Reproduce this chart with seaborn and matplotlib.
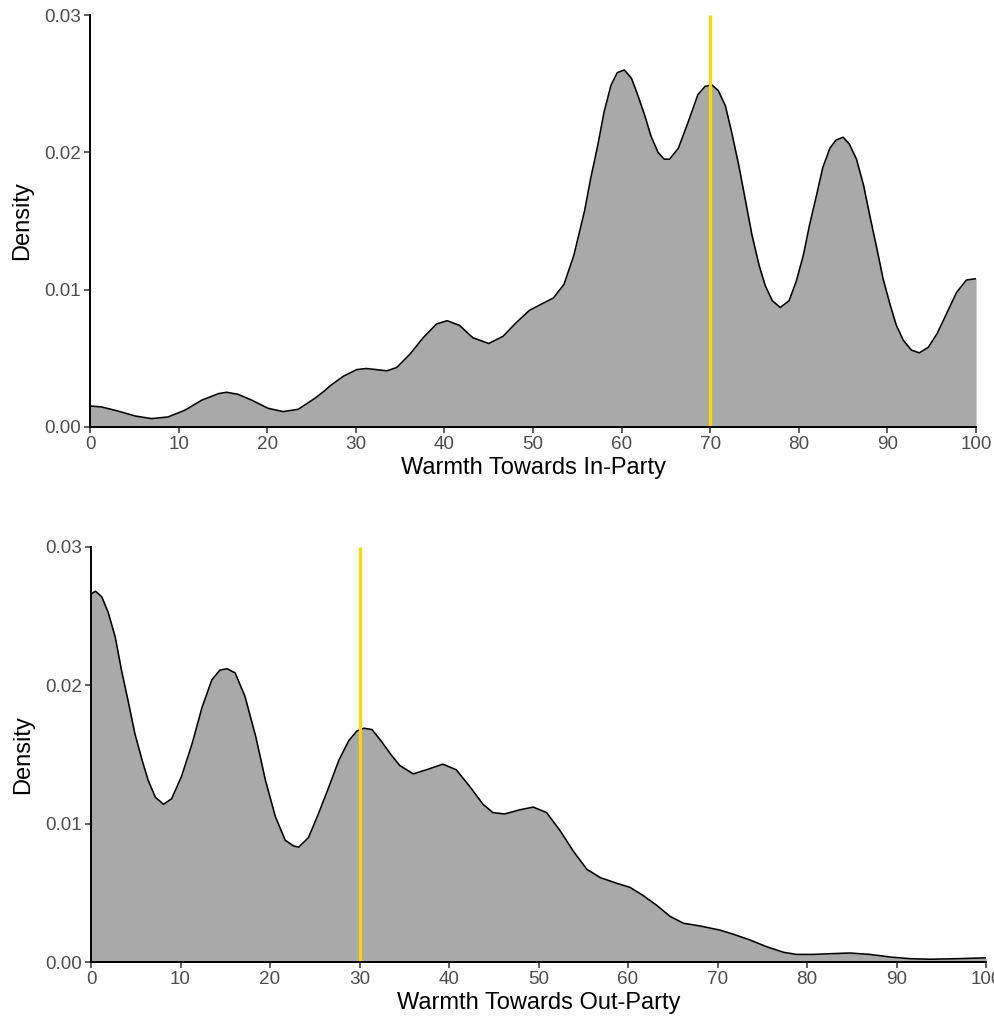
import matplotlib
matplotlib.use("Agg")
import matplotlib.pyplot as plt
import seaborn as sns

# ---- data ----
in_x = [0, 1.3, 3.1, 5.1, 6.95, 8.8, 10.7, 12.6, 14.5, 15.4, 16.7, 18.2, 20.1, 21.8, 23.5,
        25.4, 26.4, 27.1, 28.6, 30.1, 31.2, 33.5, 34.6, 36.1, 37.6, 39.1, 40.3, 41.7, 43.2,
        45, 46.6, 48.1, 49.6, 51.1, 52.3, 53.5, 54.6, 55.8, 56.5, 57.3, 58, 58.8, 59.5, 60.3,
        61.1, 61.8, 62.6, 63.3, 64.1, 64.8, 65.4, 66.4, 67.5, 68.6, 69.4, 70.2, 70.9, 71.7,
        72.4, 73.2, 74, 74.7, 75.5, 76.2, 77, 77.9, 78.9, 79.7, 80.5, 81.2, 82, 82.7, 83.5,
        84.2, 85, 85.7, 86.5, 87.3, 88, 88.8, 89.5, 90.3, 91, 91.8, 92.7, 93.6, 94.6, 95.6,
        96.7, 97.8, 98.9, 100]
in_density = [0.00153, 0.00146, 0.00117, 0.0008, 0.00061, 0.00073, 0.00122, 0.00195, 0.00243,
              0.00253, 0.00238, 0.00197, 0.00136, 0.00112, 0.00129, 0.0021, 0.0026, 0.0030,
              0.0037, 0.00418, 0.00426, 0.00409, 0.00433, 0.0053, 0.0065, 0.0075, 0.00774,
              0.0074, 0.0065, 0.00608, 0.0066, 0.0076, 0.0085, 0.0090, 0.0094, 0.0104, 0.0125,
              0.0157, 0.0181, 0.0205, 0.0229, 0.0249, 0.0258, 0.0260, 0.0254, 0.0242, 0.0227,
              0.0212, 0.0200, 0.0195, 0.0195, 0.0203, 0.0222, 0.0242, 0.0248, 0.0249, 0.0245,
              0.0234, 0.0215, 0.0191, 0.0164, 0.0140, 0.0118, 0.0103, 0.0092, 0.0087, 0.0092,
              0.0106, 0.0125, 0.0147, 0.0169, 0.0189, 0.0203, 0.0209, 0.0211, 0.0206, 0.0195,
              0.0176, 0.0154, 0.0130, 0.0108, 0.0089, 0.0074, 0.0063, 0.0056, 0.0054, 0.0058,
              0.0068, 0.0083, 0.0098, 0.0107, 0.0108]

out_x = [0, 0.5, 1.2, 1.9, 2.7, 3.4, 4.2, 4.9, 5.7, 6.4, 7.2, 8.1, 9, 10.1, 11.3, 12.4, 13.5,
         14.4, 15.2, 16.1, 17.2, 18.4, 19.5, 20.6, 21.7, 22.6, 23.2, 24.3, 25.4, 26.6, 27.7,
         28.8, 29.7, 30.5, 31.4, 32.5, 33.5, 34.5, 36, 37.5, 39.3, 40.8, 42.3, 43.8, 44.9,
         46.2, 47.9, 49.4, 50.9, 52.4, 53.9, 55.4, 56.9, 58.7, 60.2, 61.7, 63.2, 64.7, 66.2,
         68.1, 70.3, 71.8, 73.6, 75.5, 77.4, 78.8, 80.7, 82.6, 84.8, 87, 89.3, 91.5, 93.8,
         96.8, 100]
out_density = [0.0266, 0.0268, 0.0264, 0.0253, 0.0235, 0.0211, 0.0187, 0.0165, 0.0146, 0.0131,
               0.0119, 0.0114, 0.0118, 0.0134, 0.0158, 0.0184, 0.0204, 0.0211, 0.0212, 0.0209,
               0.0192, 0.0163, 0.0131, 0.0105, 0.0088, 0.0084, 0.0083, 0.0090, 0.0107, 0.0127,
               0.0146, 0.0160, 0.0167, 0.0169, 0.0168, 0.0159, 0.0150, 0.0142, 0.0136, 0.0139,
               0.0143, 0.0139, 0.0127, 0.0114, 0.0108, 0.0107, 0.0110, 0.0112, 0.0108, 0.0095,
               0.0080, 0.0067, 0.0061, 0.0057, 0.0054, 0.0048, 0.0041, 0.0033, 0.0028, 0.0026,
               0.0023, 0.0020, 0.0016, 0.0011, 0.0007, 0.00055, 0.00055, 0.0006, 0.00065,
               0.00055, 0.00036, 0.00024, 0.0002, 0.00024, 0.0003]

in_marker = 70
out_marker = 30

x_ticks = [0, 10, 20, 30, 40, 50, 60, 70, 80, 90, 100]
y_ticks = [0.00, 0.01, 0.02, 0.03]
x_titles = ["Warmth Towards In-Party", "Warmth Towards Out-Party"]
y_title = "Density"

# ---- styling ----
sns.set_theme(style="ticks")
plt.rcParams["font.family"] = ["Liberation Sans", "DejaVu Sans"]

fig = plt.figure(figsize=(9.95, 10.22), dpi=100)
ax_top = fig.add_axes([0.0905, 0.5822, 0.8905, 0.4031])
ax_bot = fig.add_axes([0.0915, 0.0587, 0.8995, 0.4061])

panels = [
    (ax_top, in_x, in_density, in_marker, x_titles[0]),
    (ax_bot, out_x, out_density, out_marker, x_titles[1]),
]

for ax, xs, ys, marker, xtitle in panels:
    ax.fill_between(xs, ys, 0, color="#A9A9A9", linewidth=0, zorder=1)
    sns.lineplot(x=xs, y=ys, ax=ax, color="black", linewidth=1.15, zorder=2)
    ax.vlines(marker, y_ticks[0], y_ticks[-1], color="#FFD700", linewidth=2.3, zorder=3)

    ax.set_xlim(x_ticks[0], x_ticks[-1])
    ax.set_ylim(y_ticks[0], y_ticks[-1])
    ax.set_xticks(x_ticks)
    ax.set_yticks(y_ticks)
    ax.set_yticklabels([f"{v:.2f}" for v in y_ticks])
    ax.set_xticklabels([str(v) for v in x_ticks])

    for side in ["top", "right"]:
        ax.spines[side].set_visible(False)
    for side in ["left", "bottom"]:
        ax.spines[side].set_color("black")
        ax.spines[side].set_linewidth(1.4)
        ax.spines[side].set_zorder(4)

    ax.tick_params(axis="both", direction="out", length=4.5, width=1.1,
                   color="#333333", labelcolor="#4D4D4D", labelsize=13.6, pad=2)
    ax.set_xlabel(xtitle, fontsize=17, color="black", labelpad=3)
    ax.set_ylabel(y_title, fontsize=17, color="black", labelpad=8)
    ax.set_facecolor("white")
    ax.grid(False)

fig.savefig("out.png", dpi=100, facecolor="white")
